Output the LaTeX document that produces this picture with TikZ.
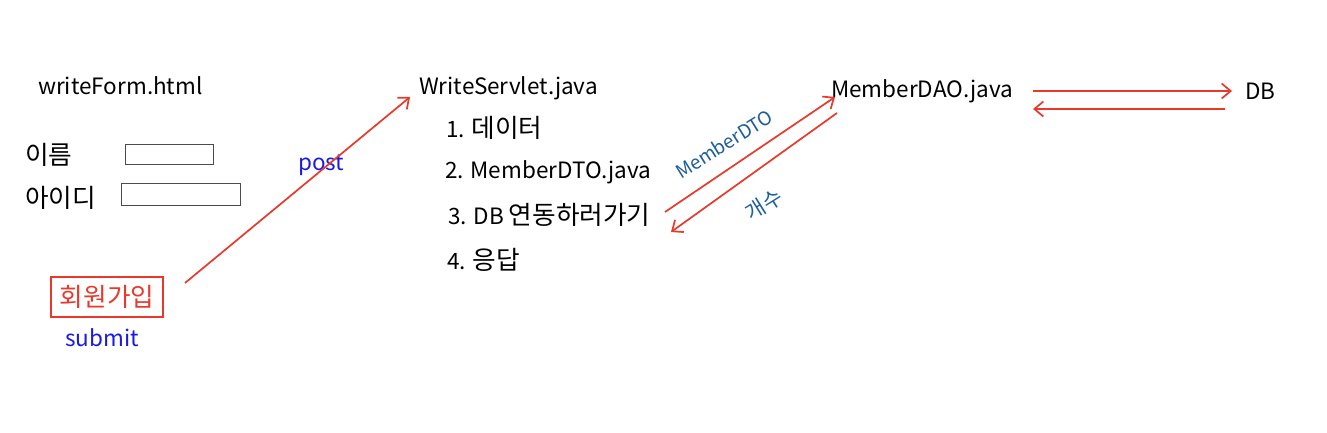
\documentclass[tikz,border=0pt]{standalone}
\usepackage{fontspec}
\setmainfont{Noto Sans CJK KR}
\newfontfamily\kr[Scale=1.14]{Noto Sans CJK KR}
\usetikzlibrary{arrows.meta}
\definecolor{pen}{HTML}{E8392B}
\definecolor{bluetxt}{HTML}{1A1AE6}
\definecolor{hand}{HTML}{1F5E9C}
\tikzset{
  lbl/.style={anchor=west, inner sep=0pt, font=\fontsize{22.5}{26}\selectfont},
  redarrow/.style={draw=pen, line width=1.7pt, -{Straight Barb[length=9pt,width=15pt,line width=1.7pt]}},
  inbox/.style={draw=black!70, line width=0.8pt},
  handtxt/.style={text=hand, inner sep=0pt, font=\fontsize{19}{22}\selectfont\itshape}
}
\begin{document}
\begin{tikzpicture}[x=1pt,y=-1pt]
\useasboundingbox (0,0) rectangle (1327,433);
\fill[white] (0,0) rectangle (1327,433);
% left form
\node[lbl] (form) at (38,86) {writeForm.html};
\node[lbl] (name) at (25,155) {\kr 이름};
\node[inbox, minimum width=88pt, minimum height=20pt, inner sep=0pt] (box1) at (169,154) {};
\node[lbl] (id) at (25,198) {\kr 아이디};
\node[inbox, minimum width=119pt, minimum height=22pt, inner sep=0pt] (box2) at (180.5,194) {};
\node[draw=pen, line width=1.1pt, text=pen, minimum width=112pt, minimum height=40pt, inner sep=0pt, font=\fontsize{22.5}{26}\selectfont] (btn) at (107,297) {\kr 회원가입};
\node[lbl, text=bluetxt] (submit) at (65,338) {submit};
\node[lbl, text=bluetxt] (post) at (298,165) {post};
% servlet
\node[lbl] (servlet) at (419,88) {WriteServlet.java};
\node[lbl] (s1) at (446,128) {1. {\kr 데이터}};
\node[lbl] (s2) at (445,172) {2. MemberDTO.java};
\node[lbl] (s3) at (448,215) {3. DB {\kr 연동하러가기}};
\node[lbl] (s4) at (447,260) {4. {\kr 응답}};
% DAO and DB
\node[lbl] (dao) at (831,91) {MemberDAO.java};
\node[lbl] (db) at (1245,91) {DB};
% connectors
\coordinate (a1s) at (185,283);
\coordinate (a1e) at (410,97);
\draw[redarrow] (a1s) -- (a1e);
\coordinate (a2s) at (665,212);
\coordinate (a2e) at (835,97);
\draw[redarrow] (a2s) -- (a2e);
\coordinate (a3s) at (837,113);
\coordinate (a3e) at (671,232);
\draw[redarrow] (a3s) -- (a3e);
\coordinate (a4s) at (1033,91);
\coordinate (a4e) at (1232,91);
\draw[redarrow] (a4s) -- (a4e);
\coordinate (a5s) at (1225,109);
\coordinate (a5e) at (1033,109);
\draw[redarrow] (a5s) -- (a5e);
% handwritten labels
\node[handtxt, rotate=32] (mdto) at (724,144) {MemberDTO};
\node[handtxt, rotate=32, font=\fontsize{21}{24}\selectfont] (cnt) at (764,205) {개수};
\end{tikzpicture}
\end{document}
